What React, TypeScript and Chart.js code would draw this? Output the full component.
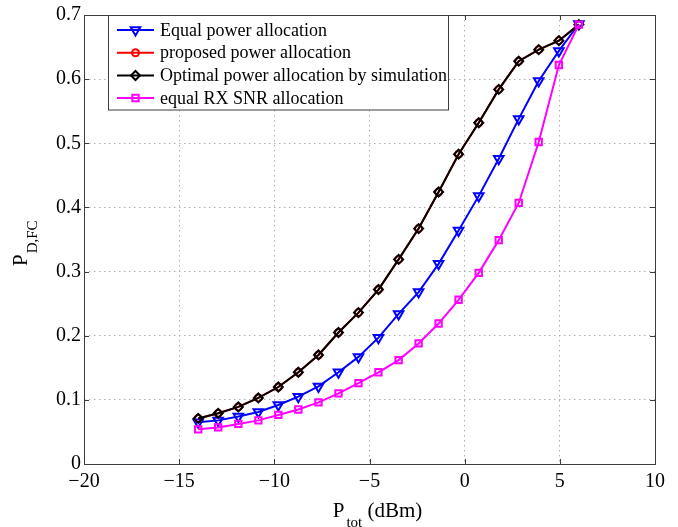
import React, { useEffect, useRef } from "react";
import { Chart, registerables } from "chart.js";

Chart.register(...registerables);

// Total transmit power (dBm)
const powerDbm = [
  -14, -12.95, -11.89, -10.84, -9.79, -8.74, -7.68, -6.63, -5.58, -4.53,
  -3.47, -2.42, -1.37, -0.32, 0.74, 1.79, 2.84, 3.89, 4.95, 6.0,
];

// Detection probability at the fusion center for each allocation scheme
const equalPowerAlloc = [
  0.065, 0.068, 0.074, 0.081, 0.092, 0.105, 0.121, 0.143, 0.167, 0.197,
  0.234, 0.268, 0.312, 0.364, 0.418, 0.476, 0.538, 0.597, 0.644, 0.686,
];
const proposedAlloc = [
  0.071, 0.079, 0.089, 0.103, 0.12, 0.143, 0.17, 0.205, 0.236, 0.272,
  0.319, 0.367, 0.424, 0.483, 0.532, 0.584, 0.628, 0.646, 0.66, 0.685,
];
const optimalSimAlloc = [
  0.071, 0.079, 0.089, 0.103, 0.12, 0.143, 0.17, 0.205, 0.236, 0.272,
  0.319, 0.367, 0.424, 0.483, 0.532, 0.584, 0.628, 0.646, 0.66, 0.685,
];
const equalRxSnrAlloc = [
  0.054, 0.057, 0.0625, 0.068, 0.0765, 0.085, 0.096, 0.11, 0.126, 0.143,
  0.162, 0.188, 0.219, 0.256, 0.298, 0.349, 0.407, 0.502, 0.622, 0.685,
];

const seriesLabels = [
  "Equal power allocation",
  "proposed power allocation",
  "Optimal power allocation by simulation",
  "equal RX SNR allocation",
];

const xTicks = [-20, -15, -10, -5, 0, 5, 10];
const yTicks = [0, 0.1, 0.2, 0.3, 0.4, 0.5, 0.6, 0.7];

const SERIF = "'Liberation Serif', 'Times New Roman', serif";
const AXIS_COLOR = "#3c3c3c";

type Marker = "triDown" | "circle" | "diamond" | "square";

const seriesStyles: { color: string; marker: Marker }[] = [
  { color: "#0000ff", marker: "triDown" },
  { color: "#ff0000", marker: "circle" },
  { color: "#000000", marker: "diamond" },
  { color: "#ff00ff", marker: "square" },
];

function fmtX(v: number) {
  return v < 0 ? "\u2212" + Math.abs(v) : String(v);
}
function fmtY(v: number) {
  const r = Math.round(v * 10) / 10;
  return r === 0 ? "0" : r.toFixed(1);
}

function drawMarker(ctx: CanvasRenderingContext2D, m: Marker, x: number, y: number, color: string) {
  ctx.save();
  ctx.strokeStyle = color;
  ctx.lineWidth = 2;
  ctx.beginPath();
  if (m === "triDown") {
    const r = 5.5;
    ctx.moveTo(x, y + r);
    ctx.lineTo(x - r * 0.866, y - r * 0.5);
    ctx.lineTo(x + r * 0.866, y - r * 0.5);
    ctx.closePath();
  } else if (m === "circle") {
    ctx.arc(x, y, 3.5, 0, Math.PI * 2);
  } else if (m === "diamond") {
    const r = 4.5;
    ctx.moveTo(x - r, y);
    ctx.lineTo(x, y - r);
    ctx.lineTo(x + r, y);
    ctx.lineTo(x, y + r);
    ctx.closePath();
  } else {
    const s = 3.2;
    ctx.rect(x - s, y - s, 2 * s, 2 * s);
  }
  ctx.stroke();
  ctx.restore();
}

const frameAndLabels = {
  id: "frameAndLabels",
  afterDatasetsDraw(chart: any) {
    const { ctx, chartArea } = chart;
    const { left, right, top, bottom } = chartArea;
    const xs = chart.scales.x;
    const ys = chart.scales.y;
    const tickLen = 5;

    ctx.save();
    ctx.strokeStyle = AXIS_COLOR;
    ctx.lineWidth = 1;
    ctx.setLineDash([]);
    // Box
    ctx.strokeRect(Math.round(left) + 0.5, Math.round(top) + 0.5, Math.round(right - left), Math.round(bottom - top));
    // Inward ticks on all four sides
    ctx.beginPath();
    xTicks.forEach((v) => {
      const px = Math.round(xs.getPixelForValue(v)) + 0.5;
      ctx.moveTo(px, bottom);
      ctx.lineTo(px, bottom - tickLen);
      ctx.moveTo(px, top);
      ctx.lineTo(px, top + tickLen);
    });
    yTicks.forEach((v) => {
      const py = Math.round(ys.getPixelForValue(v)) + 0.5;
      ctx.moveTo(left, py);
      ctx.lineTo(left + tickLen, py);
      ctx.moveTo(right, py);
      ctx.lineTo(right - tickLen, py);
    });
    ctx.stroke();
    ctx.restore();
  },
  afterDraw(chart: any) {
    const { ctx, chartArea } = chart;
    const { left, right } = chartArea;

    ctx.save();
    ctx.fillStyle = "#000";
    ctx.textBaseline = "alphabetic";
    ctx.textAlign = "left";

    // X axis title: P_tot (dBm)
    const mainFont = `21px ${SERIF}`;
    const subFont = `15px ${SERIF}`;
    ctx.font = mainFont;
    const wP = ctx.measureText("P").width;
    const wUnit = ctx.measureText(" (dBm)").width;
    ctx.font = subFont;
    const wTot = ctx.measureText("tot").width;
    const total = wP + 2 + wTot + wUnit;
    const cx = (left + right) / 2;
    const x0 = cx - total / 2 + 8;
    const baseY = 517;
    ctx.font = mainFont;
    ctx.fillText("P", x0, baseY);
    ctx.font = subFont;
    ctx.fillText("tot", x0 + wP + 2, baseY + 9.5);
    ctx.font = mainFont;
    ctx.fillText(" (dBm)", x0 + wP + 2 + wTot, baseY);

    // Y axis title: P_D,FC (rotated)
    ctx.save();
    ctx.translate(27, 266);
    ctx.rotate(-Math.PI / 2);
    ctx.font = mainFont;
    ctx.fillText("P", 0, 0);
    ctx.font = subFont;
    ctx.fillText("D,FC", wP + 1, 10);
    ctx.restore();

    // Legend
    const lx = 108.5;
    const ly = 15.5;
    const lw = 340;
    const lh = 94.5;
    ctx.fillStyle = "#ffffff";
    ctx.fillRect(lx, ly, lw, lh);
    ctx.strokeStyle = AXIS_COLOR;
    ctx.lineWidth = 1;
    ctx.strokeRect(lx, ly, lw, lh);

    const rowY = [30, 52.7, 75.5, 98];
    ctx.font = `18px ${SERIF}`;
    ctx.textBaseline = "middle";
    seriesLabels.forEach((label, i) => {
      const st = seriesStyles[i];
      const y = rowY[i];
      ctx.strokeStyle = st.color;
      ctx.lineWidth = 2;
      ctx.beginPath();
      ctx.moveTo(117, y);
      ctx.lineTo(154, y);
      ctx.stroke();
      drawMarker(ctx, st.marker, 135.5, y, st.color);
      ctx.fillStyle = "#000";
      ctx.fillText(label, 160, y + 1);
    });
    ctx.restore();
  },
};

export default function App() {
  const canvasRef = useRef<HTMLCanvasElement | null>(null);

  useEffect(() => {
    document.body.style.margin = "0";
    const canvas = canvasRef.current;
    if (!canvas) return;

    const pts = (ys: number[]) => powerDbm.map((x, i) => ({ x, y: ys[i] }));
    const base = (color: string) => ({
      showLine: true,
      borderColor: color,
      backgroundColor: "rgba(0,0,0,0)",
      borderWidth: 2,
      tension: 0,
      pointBorderColor: color,
      pointBackgroundColor: "rgba(0,0,0,0)",
      pointBorderWidth: 2,
      clip: false as const,
    });

    const chart = new Chart(canvas, {
      type: "scatter",
      data: {
        datasets: [
          {
            ...base("#0000ff"),
            label: seriesLabels[0],
            data: pts(equalPowerAlloc),
            pointStyle: "triangle",
            pointRotation: 180,
            pointRadius: 5.5,
            order: 3,
          },
          {
            ...base("#ff0000"),
            label: seriesLabels[1],
            data: pts(proposedAlloc),
            pointStyle: "circle",
            pointRadius: 3.5,
            order: 2,
          },
          {
            ...base("#000000"),
            label: seriesLabels[2],
            data: pts(optimalSimAlloc),
            pointStyle: "rectRot",
            pointRadius: 4.5,
            order: 1,
          },
          {
            ...base("#ff00ff"),
            label: seriesLabels[3],
            data: pts(equalRxSnrAlloc),
            pointStyle: "rect",
            pointRadius: 4.5,
            order: 0,
          },
        ],
      },
      options: {
        responsive: false,
        animation: false,
        events: [],
        devicePixelRatio: 1,
        layout: { padding: { top: 13, right: 23, left: 0, bottom: 0 } },
        plugins: {
          legend: { display: false },
          tooltip: { enabled: false },
          title: { display: false },
        },
        scales: {
          x: {
            type: "linear",
            min: -20,
            max: 10,
            afterBuildTicks: (s: any) => {
              s.ticks = xTicks.map((v) => ({ value: v }));
            },
            afterFit: (s: any) => {
              s.height = 63;
            },
            grid: { color: "#b0b0b0", lineWidth: 1, drawTicks: false },
            border: { display: false, dash: [1.5, 3.5] },
            ticks: {
              color: "#000",
              font: { family: SERIF, size: 20 },
              padding: 6,
              maxRotation: 0,
              autoSkip: false,
              callback: (v: any) => fmtX(Number(v)),
            },
          },
          y: {
            type: "linear",
            min: 0,
            max: 0.7,
            afterBuildTicks: (s: any) => {
              s.ticks = yTicks.map((v) => ({ value: v }));
            },
            afterFit: (s: any) => {
              s.width = 84;
            },
            grid: { color: "#b0b0b0", lineWidth: 1, drawTicks: false },
            border: { display: false, dash: [1.5, 3.5] },
            ticks: {
              color: "#000",
              font: { family: SERIF, size: 20 },
              padding: 3,
              autoSkip: false,
              callback: (v: any) => fmtY(Number(v)),
            },
          },
        },
      },
      plugins: [frameAndLabels],
    });

    return () => chart.destroy();
  }, []);

  return (
    <div style={{ width: 678, height: 527, background: "#fff" }}>
      <canvas ref={canvasRef} width={678} height={527} style={{ display: "block" }} />
    </div>
  );
}
